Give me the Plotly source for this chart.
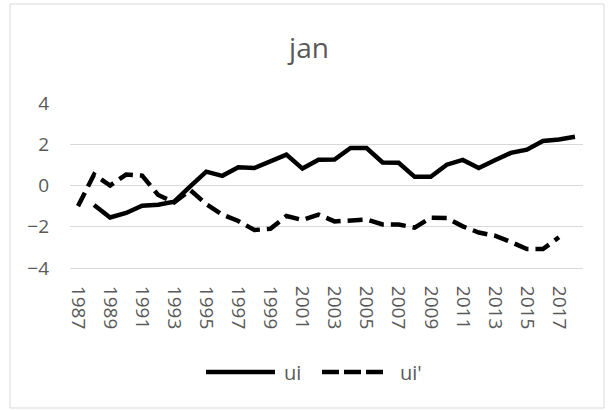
import plotly.graph_objects as go

years = [str(y) for y in range(1987, 2019)]
tick_labels = [str(y) for y in range(1987, 2019, 2)]

ui = [None, -0.95, -1.55, -1.33, -0.98, -0.93, -0.78, -0.04, 0.67, 0.47, 0.88,
      0.85, 1.15, 1.50, 0.82, 1.25, 1.26, 1.82, 1.82, 1.12, 1.10,
      0.42, 0.42, 1.01, 1.24, 0.85, 1.22, 1.58, 1.74, 2.16, 2.23, 2.36]

ui_prime = [-1.00, 0.53, 0.00, 0.53, 0.48, -0.46, -0.82, -0.22, -0.90, -1.41,
            -1.72, -2.16, -2.10, -1.48, -1.67, -1.41, -1.74, -1.69, -1.65, -1.89,
            -1.89, -2.04, -1.56, -1.57, -1.98, -2.28, -2.43, -2.74, -3.08, -3.08,
            -2.51, None]

W, H = 611, 410
L, R, T, B = 70, 28, 103, 142
pw, ph = W - L - R, H - T - B

def px(x):
    return (x - L) / pw

def py(y):
    return (H - B - y) / ph

TXT = "#595959"
GRID = "#d9d9d9"
FONT = "Open Sans"

fig = go.Figure()
fig.add_trace(go.Scatter(x=years, y=ui, mode="lines", name="ui",
                         line=dict(color="black", width=4.5),
                         connectgaps=False))
fig.add_trace(go.Scatter(x=years, y=ui_prime, mode="lines", name="ui'",
                         line=dict(color="black", width=4.5, dash="15px,7px"),
                         connectgaps=False))

shapes = [
    dict(type="rect", xref="paper", yref="paper",
         x0=px(10), x1=px(604), y0=py(408), y1=py(4),
         line=dict(color=GRID, width=1), fillcolor="rgba(0,0,0,0)", layer="below"),
    dict(type="line", xref="paper", yref="paper",
         x0=px(206), x1=px(275), y0=py(372), y1=py(372),
         line=dict(color="black", width=4.5)),
    dict(type="line", xref="paper", yref="paper",
         x0=px(322), x1=px(383), y0=py(372), y1=py(372),
         line=dict(color="black", width=4.5, dash="17px,5px")),
]
annotations = [
    dict(text="ui", xref="paper", yref="paper", x=px(282), y=py(372),
         xanchor="left", yanchor="middle", showarrow=False,
         font=dict(family=FONT, size=20, color=TXT)),
    dict(text="ui'", xref="paper", yref="paper", x=px(398), y=py(372),
         xanchor="left", yanchor="middle", showarrow=False,
         font=dict(family=FONT, size=20, color=TXT)),
]

fig.update_layout(
    width=W, height=H,
    margin=dict(l=L, r=R, t=T, b=B),
    paper_bgcolor="white", plot_bgcolor="white",
    showlegend=False,
    title=dict(text="jan", x=309 / W, xref="container", xanchor="center",
               y=1 - 48 / H, yref="container", yanchor="middle",
               font=dict(family=FONT, size=28, color=TXT)),
    xaxis=dict(type="category", tickmode="array", tickvals=tick_labels,
               ticktext=tick_labels, tickangle=90, showgrid=False,
               range=[-0.5, len(years) - 0.5],
               showline=True, linecolor=GRID, linewidth=1, ticks="",
               ticklabelstandoff=13,
               tickfont=dict(family=FONT, size=19, color=TXT)),
    yaxis=dict(range=[-4, 4], tickvals=[-4, -2, 0, 2, 4], showgrid=True,
               gridcolor=GRID, gridwidth=1, zeroline=True, zerolinecolor=GRID,
               zerolinewidth=1, showline=False, ticks="",
               ticklabelstandoff=20,
               tickfont=dict(family=FONT, size=19, color=TXT)),
    shapes=shapes, annotations=annotations,
)

fig.write_html("out.html",
               config={"displayModeBar": False},
               post_script="document.body.style.margin='0px';"
                           "document.body.style.padding='0px';"
                           "document.body.style.overflow='hidden';")
